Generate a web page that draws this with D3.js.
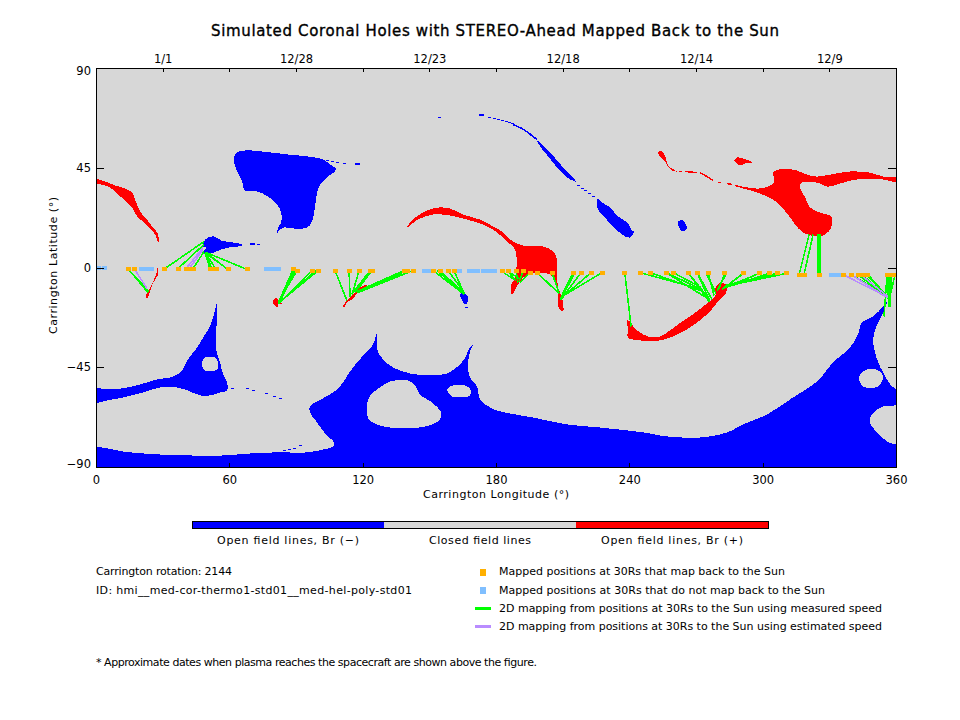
<!DOCTYPE html>
<html><head><meta charset="utf-8">
<script src="https://cdn.jsdelivr.net/npm/d3@7/dist/d3.min.js"></script>
<style>html,body{margin:0;padding:0;background:#fff}svg{display:block}</style>
</head><body><svg id="c" width="960" height="720"></svg>
<script>
const titleText = "Simulated Coronal Holes with STEREO-Ahead Mapped Back to the Sun";
const xTitle = "Carrington Longitude (°)";
const yTitle = "Carrington Latitude (°)";
const lonTicks = [0,60,120,180,240,300,360];
const latTicks = [-90,-45,0,45,90];
const topTicks = [30,60,90,120,150,180,210,240,270,300,330];
const dateLabels = {30:"1/1",90:"12/28",150:"12/23",210:"12/18",270:"12/14",330:"12/9"};
const barLabels = ["Open field lines, Br (−)","Closed field lines","Open field lines, Br (+)"];
const barColors = ["#0000ff","#d7d7d7","#ff0000"];
const infoLines = ["Carrington rotation: 2144","ID: hmi__med-cor-thermo1-std01__med-hel-poly-std01"];
const legendLines = ["Mapped positions at 30Rs that map back to the Sun","Mapped positions at 30Rs that do not map back to the Sun","2D mapping from positions at 30Rs to the Sun using measured speed","2D mapping from positions at 30Rs to the Sun using estimated speed"];
const footnote = "* Approximate dates when plasma reaches the spacecraft are shown above the figure.";

// Open-field regions, [lon, lat]
const blueNorth = [[62.1,49.6],[63.5,51.9],[67.1,52.8],[75.2,52.3],[86,51],[95,50.1],[102.2,48.7],[105.3,46.5],[108,44.2],[104.4,41],[100.8,37.4],[99.5,33.8],[98.6,27.5],[97.2,20.7],[95,18],[88.7,17.6],[84.2,18],[81.9,16.2],[81.5,14.9],[81.9,18],[83.3,20.3],[83.3,24.8],[81.5,28.4],[77.4,32],[72.5,34.3],[67.1,34.7],[65.7,38.8],[63.5,43.3],[62.1,47.4]];
const blueComet = [[48.2,11.3],[50.4,13.5],[53.1,14],[56.3,12.2],[61.7,11.3],[65.7,10.4],[65.7,9.9],[59.9,9],[56.3,8.1],[53.1,6.8],[50.4,5.9],[48.6,6.8],[48.2,4.5],[48.2,6.8],[49.5,9],[48.2,9.5]];
const blueSliver = [[198.5,57.3],[202,54.1],[205.2,51],[207.9,47.8],[211.9,43.3],[216,38.8],[212.8,40.1],[209.6,42.8],[206.4,46.4],[202.8,51],[200.2,54.1]];
const blueStreak = [[225.5,31.1],[227.7,29.3],[231.3,27.1],[234.9,23],[239,20.3],[241.2,16.7],[242.1,16.2],[240.3,13.5],[236.7,14.9],[232.7,18.5],[229,22.5],[225.9,26.2]];
const blueIsle = [[261.9,20.7],[264.2,21.2],[265.5,18.9],[266,18],[264.2,16.2],[262.4,18]];
const blueEquator = [[163.8,-12.2],[165.2,-11.3],[167.4,-13.1],[167.4,-15.3],[166,-16.7],[164.7,-14.4]];
const blueArm = [[0,-54.1],[5,-55],[12.2,-54.5],[19.8,-52.8],[27.5,-50.5],[34.7,-49.2],[38.7,-46.5],[41.4,-41.5],[45.5,-36.1],[48.2,-31.6],[51.3,-26.6],[53.1,-21.2],[54.5,-15.8],[54.5,-23.4],[54,-29.3],[54,-37],[55.8,-42.8],[57.2,-48.2],[59,-51.9],[59,-55.5],[55.8,-56.4],[51.3,-57.7],[46.8,-57.7],[42.3,-55.9],[36.5,-54.1],[28.8,-54.1],[21.2,-56.4],[12.2,-58.6],[3.2,-60.4],[0,-61.3]];
const blueSouth = [[0,-80.7],[5,-81.6],[12.2,-83],[27.5,-84.3],[42.3,-84.8],[57.2,-84.8],[69.3,-83.9],[81.5,-83.4],[95,-83.4],[102.2,-82.1],[106.7,-80.7],[107.1,-78.9],[104.4,-76.2],[101.7,-73.1],[99.5,-69.9],[96.3,-65.4],[96.3,-62.7],[99.5,-60.4],[105.3,-57.3],[109.8,-53.7],[113.4,-48.3],[117.5,-42.8],[122,-37.9],[124.7,-34.7],[126.5,-29.3],[126.5,-37],[129.2,-41.5],[133.7,-45.1],[141.3,-47.8],[150.3,-48.7],[158,-47.8],[163.8,-43.7],[166.5,-40.1],[167.9,-36.5],[169.7,-34.7],[168.3,-37.9],[167.4,-43.7],[168.3,-49.6],[171.5,-53.7],[172.8,-59.5],[177.3,-63.1],[181.8,-64.9],[196.7,-67.7],[212,-70.8],[226.8,-72.2],[246.2,-74.4],[257,-76.2],[271.8,-76.7],[284,-74.4],[291.2,-70.8],[302,-66.3],[313.7,-58.6],[324.5,-51.4],[331.7,-42.8],[339.3,-36.1],[342.9,-30.2],[344.7,-24.8],[349.7,-22.1],[354.2,-17.6],[356,-15.3],[354.2,-20.3],[351.5,-25.7],[349.7,-32.5],[351.5,-41.5],[354.2,-47.4],[358.2,-53.7],[360,-55],[360,-61.8],[354.2,-62.7],[349.2,-66.3],[348.3,-69.9],[351.5,-74.4],[356,-78.5],[360,-79.8]];
const southPole = [[360,-90],[0,-90]];
const closedIslands = [
  [[47.7,-42.8],[49,-40.6],[53.6,-40.6],[54.9,-42.8],[54.5,-46],[49,-46.5]],
  [[121.9,-66.3],[122.9,-58.6],[127.8,-54.1],[132.3,-51.4],[140.4,-51],[143.6,-53.2],[145.8,-57.3],[151.2,-60.9],[155.3,-65.4],[154.8,-68.6],[150.3,-71.2],[139.9,-72.6],[129.2,-71.7],[123.3,-69]],
  [[158,-55],[160.7,-53.2],[166,-53.2],[168.8,-55.5],[168.3,-57.7],[163.8,-58.6],[160.2,-58.2]],
  [[343.4,-49.6],[345.2,-46.9],[349.2,-45.6],[352.8,-46.9],[354.2,-49.6],[351.9,-53.7],[345.2,-53.7]]
];
const blueStrands = [[[187.7,64.5],[191.7,62.7],[194.4,60.9],[198.5,57.7]]];
const blueSpecks = [[104,48.3],[106.2,47.8],[108.5,47.4],[111.6,46.9],[154.4,67.7],[176.9,67.7],[179.1,67.2],[180.9,66.7],[182.7,66.3],[184.5,65.8],[185.9,65.4],[187.2,64.9],[195.8,59.5],[216.9,37],[218.7,35.6],[220.1,34.7],[221.9,33.4],[223.7,32],[72.9,10.4],[166.5,-18],[61.2,-54.6],[68,-54.6],[70.7,-55.5],[76.5,-56.8],[80.1,-58.2],[82.8,-59.1],[84.6,-82.5],[86.9,-82.1],[89.1,-81.6],[91.8,-80.3]];
const blueDots = [[117.5,46.5],[173.3,68.6],[70.2,10.4]];

const redWest = [[0,40.1],[4.1,38.8],[8.6,37],[13.1,35.6],[16.2,33.8],[17.6,30.7],[19.8,25.3],[22.9,21.6],[25.2,18.5],[27.5,15.8],[28.4,11.7],[27.9,11.7],[26.6,14.9],[24.3,17.6],[21.2,20.7],[18.5,23],[16.2,27.1],[13.1,30.2],[9.9,32.9],[6.3,36.1],[0,37.9]];
const redNorth = [[305.1,43.3],[309.2,44.6],[315.5,43.7],[320,41.9],[324.5,41],[330.3,41.9],[339.3,43.3],[348.3,42.8],[354.2,41],[360,40.6],[360,38.8],[354.2,39.7],[347,40.1],[339.3,39.2],[333.5,37.4],[329,36.5],[324.5,38.3],[317.7,38.3],[316.8,36.1],[319.1,31.6],[321.3,27.1],[325.8,24.8],[330.8,23],[330.8,18],[328.1,14.9],[324.5,14],[318.2,15.8],[314.6,19.4],[311.4,23.9],[306.5,29.3],[302,32],[297.5,33.8],[293.4,35.2],[288.9,36.5],[293.4,36.1],[297.9,35.6],[302.4,36.5],[305.1,38.3],[304.7,42.8]];
const redTadpole = [[252.9,51.9],[254.2,52.8],[255.2,51.9],[256.5,49.2],[257.4,46],[259.2,44.6],[261.5,43.3],[259.2,43.7],[257.4,45.5],[256.1,47.8],[253.8,50.1]];
const redPatch = [[287.1,48.3],[288.5,49.6],[291.2,49.2],[295.2,47.4],[292.1,46.9],[289.8,46],[288,47.4]];
const redArch = [[140,18],[141.3,20.3],[144.9,23.5],[150.3,26.2],[154.8,27.1],[159.3,26.6],[165.2,23.9],[172.8,21.6],[178.7,18.5],[183.2,15.8],[187.7,11.7],[192.2,9.9],[201.2,9.5],[205.7,7.2],[207.5,3.6],[207.5,-3.2],[207.9,-9],[209.7,-13.5],[210.2,-19.8],[207.9,-17.6],[207.9,-9.9],[204.3,-3.2],[198.5,-2.3],[194,-3.2],[190.8,-6.3],[187.2,-12.2],[186.8,-7.7],[188.6,-4.5],[188.6,8.1],[185,11.7],[180.5,15.8],[174.2,19.4],[167,21.6],[159.3,23.5],[151.7,23.9],[145.8,22.1],[142.2,19.8]];
const redCrescent = [[239,-23.9],[240.3,-24.4],[241.7,-26.6],[244.8,-29.3],[248.4,-31.1],[253.8,-31.1],[258.3,-28.4],[263.7,-24.4],[270.5,-19.8],[275.4,-15.8],[278.6,-13.1],[279,-8.6],[281.7,-6.8],[284,-8.6],[283.1,-12.2],[279.5,-15.8],[276.3,-19.8],[270.5,-24.8],[264.2,-28.9],[258.3,-31.6],[253.8,-32.9],[244.8,-32.9],[239.4,-31.6],[239.4,-28]];
const redHook = [[27.9,0.5],[27.9,-3.2],[26.1,-6.3],[24.8,-9],[23.9,-12.2],[23,-14],[22.5,-12.6],[23.9,-9.9],[25.7,-6.3],[27,-3.2]];
const redBlot = [[79.7,-15.3],[81,-13.5],[82.4,-15.3],[83.7,-16.2],[81.9,-16.7],[81.9,-18],[81,-17.6],[79.7,-16.2]];
const redWisp = [[111.2,-17.6],[113.4,-14.4],[115.7,-12.2],[118.8,-9],[122,-7.7],[121,-9.5],[117.9,-11.3],[115.2,-14.4],[112.9,-15.8],[112,-17.6]];
const redStrands = [[[262.4,43.3],[263.7,43.3]],[[265.1,43.3],[270.5,42.8]],[[271.8,42.8],[275,41],[277.7,39.2]],[[279.9,38.3],[281.3,38.3]],[[284,37.9],[286.2,37.4]],[[287.6,37],[294.3,35.2]]];

const blueClosed = [blueNorth,blueComet,blueSliver,blueStreak,blueIsle,blueEquator];
const redClosed = [redNorth,redTadpole,redPatch,redArch,redCrescent,redHook,redBlot,redWisp];

// Positions at 30Rs
const mappedPts = [[14.4,-.5],[17.1,-.5],[31,-.5],[36.9,-.5],[40.5,-.5],[41.9,-.5],[43.7,-.5],[51.3,-.5],[52.2,-.5],[54,-.9],[59.4,-.9],[68,-.9],[88.7,-.9],[90.5,-1.4],[97.2,-1.4],[99.9,-1.4],[107.6,-1.4],[113.9,-1.4],[118.4,-1.4],[123.3,-1.4],[124.2,-1.4],[138.6,-1.4],[140,-1.4],[142.7,-1.4],[151.7,-1.4],[154.8,-1.4],[158.4,-1.4],[161.1,-1.4],[182.7,-1.8],[185.4,-1.8],[189,-1.8],[192.2,-1.8],[195.3,-2.3],[198.5,-2.3],[205.2,-2.3],[214.7,-2.3],[218.3,-2.3],[222.8,-2.3],[227.7,-2.3],[238,-2.7],[244.8,-2.3],[249.3,-2.3],[256.5,-2.3],[259.7,-2.3],[266.4,-2.3],[270.5,-2.3],[275.4,-2.3],[283,-2.3],[291.2,-2.7],[298.4,-2.7],[302.9,-2.7],[306.5,-2.7],[310.5,-2.7],[316.4,-3.2],[318.6,-3.2],[325.4,-3.2],[336.2,-3.2],[339.8,-3.2],[342.9,-3.2],[344.7,-3.2],[347,-3.2],[356,-3.2],[357.8,-3.2],[359.6,-3.2]];
const unmappedPts = [[.9,-.2],[4,-.4],[20.3,-.5],[22,-.5],[23.4,-.5],[24.8,-.5],[76.5,-.9],[77.9,-.9],[79.2,-.9],[80.6,-.9],[81.9,-.9],[147.6,-1.4],[149,-1.4],[149.9,-1.4],[163.4,-1.8],[167.9,-1.4],[169.7,-1.4],[171.5,-1.4],[174.2,-1.8],[176,-1.8],[177.8,-1.8],[179.1,-1.8],[330.8,-3.2],[332.1,-3.2],[333.5,-3.2],[334.8,-3.2]];

// [lon at 30Rs, lat at 30Rs, lon at Sun, lat at Sun]
const measuredLinks = [[14,-.5,23.9,-10.8],[14.4,-.5,23.4,-11.3],[31,-.5,48.6,11.7],[36.9,-.5,48.6,10.4],[43.7,-.5,48.6,7.2],[51.3,-.5,49,6.8],[52.2,-.5,49,6.8],[54,-.9,49.5,6.3],[59.4,-.9,49,6.8],[59.4,-.9,50,6.3],[68,-.9,49.5,6.8],
[88.7,-.9,81.9,-16.2],[89.6,-.9,82.4,-16.2],[90.5,-1.4,81.9,-15.8],[97.2,-1.4,82.4,-16.2],[99.9,-1.4,82.4,-15.8],[99,-1.4,81.9,-16.2],
[107.6,-1.4,112.9,-14.9],[113.9,-1.4,114.3,-13.1],[118.4,-1.4,115.2,-12.2],[123.3,-1.4,115.7,-11.3],[124.2,-1.4,116.6,-11.3],[138.6,-1.4,117.5,-11.3],[138.6,-1.4,118.4,-10.4],[142.7,-1.4,117.9,-11.3],[142.7,-1.4,118.8,-10.4],[140,-1.4,117.9,-10.8],
[151.7,-1.4,165.2,-11.7],[153.5,-1.4,165.6,-12.2],[154.8,-1.4,165.2,-11.3],[158.4,-1.4,166,-11.7],[161.1,-1.4,165.6,-11.7],
[182.7,-1.8,188.1,-5.4],[185.4,-1.8,189,-5.9],[185.4,-1.8,191.3,-5.4],[189,-1.8,189.9,-6.8],[192.2,-1.8,190.4,-6.3],[195.3,-2.3,190.8,-6.8],
[198.5,-2.3,207.9,-11.3],[205.2,-2.3,208.4,-11.7],[214.7,-2.3,208.8,-14.4],[215.6,-2.3,209.3,-14],[218.3,-2.3,209.3,-14.4],[222.8,-2.3,209.7,-13.5],[227.7,-2.3,209.7,-13.1],[238,-2.7,240.8,-26.6],
[244.8,-2.3,272.7,-9.9],[249.3,-2.3,273.2,-10.8],[256.5,-2.3,271.8,-9.5],[256.5,-2.3,275.9,-14.4],[259.7,-2.3,272.3,-9],[266.4,-2.3,275.9,-15.3],[266.4,-2.3,275.4,-13.5],[270.5,-2.3,276.3,-15.3],[270.5,-2.3,277.2,-14.4],[274.5,-2.3,279,-11.7],[275.4,-2.3,278.1,-12.6],[283,-2.3,280.4,-9.5],[283.9,-2.3,279.5,-10.4],[291.2,-2.7,283.1,-9],[291.2,-2.7,281.7,-9.9],
[298.4,-2.7,284,-8.6],[298.4,-2.7,283.5,-9],[302.9,-2.7,283.5,-9],[306.5,-2.7,283.1,-8.1],[306.5,-2.7,282.6,-9],[310.5,-2.7,282.6,-8.6],
[316.4,-3.2,320.9,14.9],[318.6,-3.2,322.7,14.9],[324.9,-3.2,324.9,14.9],[325.4,-3.2,325.4,14.9],[325.9,-3.2,325.9,14.9],
[339.8,-3.2,355.9,-12.6],[342.9,-3.2,356.4,-13.5],[344.7,-3.2,355.9,-13.1],[346.5,-3.2,356.4,-13.1],[347.4,-3.2,356.9,-14],[356,-3.2,354.6,-22.1],[356,-3.2,356.9,-17.6],[356.4,-3.2,356.4,-14.4],[356.9,-3.2,356.9,-17.6],[357.3,-3.2,357.3,-17.6],[357.8,-3.2,357.3,-17.6],[359.6,-3.2,356.9,-14.4]];
const estimatedLinks = [[17.1,-.5,23,-9.5],[40.5,-.5,48.2,9],[41.9,-.5,48.2,8.1],[336.2,-3.2,356.4,-13.5],[339.8,-3.2,355.9,-13.5],[344,-3.2,356.4,-13.1]];

const svg = d3.select("#c");
const x = d3.scaleLinear().domain([0,360]).range([96,896]);
const y = d3.scaleLinear().domain([-90,90]).range([467,68]);
const path = d3.line().x(d=>x(d[0])).y(d=>y(d[1]));
const closedCurve = d3.line().x(d=>x(d[0])).y(d=>y(d[1])).curve(d3.curveCatmullRomClosed.alpha(.5));
const openCurve = d3.line().x(d=>x(d[0])).y(d=>y(d[1])).curve(d3.curveCatmullRom.alpha(.5));
const FONT = "DejaVu Sans, sans-serif";

function label(s,px,py,len,opt={}){
  const t = svg.append("text").text(s).attr("x",px).attr("y",py)
    .attr("font-family",FONT).attr("font-size",opt.size||11).attr("fill","#000")
    .attr("text-anchor",opt.anchor||"start")
    .attr("textLength",len).attr("lengthAdjust","spacing");
  if(opt.stroke) t.attr("stroke","#000").attr("stroke-width",opt.stroke);
  if(opt.transform) t.attr("transform",opt.transform);
  return t;
}

svg.append("clipPath").attr("id","plotClip").append("rect").attr("x",x(0)).attr("y",y(90)).attr("width",x(360)-x(0)).attr("height",y(-90)-y(90));

const plot = svg.append("g").attr("shape-rendering","crispEdges").attr("clip-path","url(#plotClip)");
plot.append("rect").attr("x",x(0)).attr("y",y(90)).attr("width",x(360)-x(0)).attr("height",y(-90)-y(90)).attr("fill",barColors[1]);

const fillShape = (d,col)=>plot.append("path").attr("d",d).attr("fill",col);
blueClosed.forEach(p=>fillShape(closedCurve(p),barColors[0]));
fillShape(openCurve(blueArm)+"Z",barColors[0]);
fillShape(openCurve(blueSouth)+path(southPole).replace("M","L")+"Z",barColors[0]);
closedIslands.forEach(p=>fillShape(closedCurve(p),barColors[1]));
redClosed.forEach(p=>fillShape(closedCurve(p),barColors[2]));
fillShape(openCurve(redWest)+"Z",barColors[2]);

plot.selectAll("path.rs").data(redStrands).join("path").attr("class","rs").attr("d",path).attr("fill","none").attr("stroke",barColors[2]).attr("stroke-width",1.5);
plot.selectAll("path.bs").data(blueStrands).join("path").attr("class","bs").attr("d",path).attr("fill","none").attr("stroke",barColors[0]).attr("stroke-width",1.5);
plot.selectAll("rect.sp").data(blueSpecks).join("rect").attr("class","sp").attr("x",d=>x(d[0])-1.5).attr("y",d=>y(d[1])-.5).attr("width",3).attr("height",1).attr("fill",barColors[0]);
plot.selectAll("rect.dt").data(blueDots).join("rect").attr("class","dt").attr("x",d=>x(d[0])-2.5).attr("y",d=>y(d[1])-1).attr("width",5).attr("height",2).attr("fill",barColors[0]);

const links = (cls,data,col)=>plot.selectAll("line."+cls).data(data).join("line").attr("class",cls)
  .attr("x1",d=>x(d[0])).attr("y1",d=>y(d[1])).attr("x2",d=>x(d[2])).attr("y2",d=>y(d[3]))
  .attr("stroke",col).attr("stroke-width",1.6);
links("m",measuredLinks,"#00ff00");
links("e",estimatedLinks,"#b98cff");

const pts = (cls,data,col)=>plot.selectAll("rect."+cls).data(data).join("rect").attr("class",cls)
  .attr("x",d=>x(d[0])-2.5).attr("y",d=>y(d[1])-2).attr("width",5).attr("height",4).attr("fill",col);
pts("u",unmappedPts,"#80bfff");
pts("o",mappedPts,"#ffb000");

// axes
const axisFont = g=>g.attr("font-family",FONT).attr("font-size",11.5).attr("shape-rendering","crispEdges");
svg.append("g").attr("transform",`translate(0,${y(-90)})`).call(d3.axisBottom(x).tickValues(lonTicks).tickFormat(d3.format("d")).tickSize(-4).tickSizeOuter(0).tickPadding(9)).call(axisFont);
svg.append("g").attr("transform",`translate(0,${y(90)})`).call(d3.axisTop(x).tickValues(topTicks).tickFormat(d=>dateLabels[d]||"").tickSize(-4).tickSizeOuter(0).tickPadding(5)).call(axisFont);
svg.append("g").attr("transform",`translate(${x(0)},0)`).call(d3.axisLeft(y).tickValues(latTicks).tickFormat(d3.format("d")).tickSize(-8).tickSizeOuter(0).tickPadding(5)).call(axisFont)
  .selectAll("text").attr("y",d=>d===90?3:d===-90?-3:0);
svg.append("g").attr("transform",`translate(${x(360)},0)`).call(d3.axisRight(y).tickValues(latTicks).tickFormat("").tickSize(-8).tickSizeOuter(0)).call(axisFont);

// titles
label(titleText,211,36,568,{size:15,stroke:.35});
label(xTitle,423,498,146);
label(yTitle,0,0,137,{transform:"translate(57,334) rotate(-90)"});

// colour bar
const barX = d3.scaleBand().domain(barColors).range([192,768]);
const bar = svg.append("g").attr("shape-rendering","crispEdges");
bar.selectAll("rect").data(barColors).join("rect").attr("x",d=>barX(d)).attr("y",521.5).attr("width",barX.bandwidth()).attr("height",7).attr("fill",d=>d);
bar.append("rect").attr("x",192.5).attr("y",521.5).attr("width",576).attr("height",7).attr("fill","none").attr("stroke","#000");
label(barLabels[0],217,544,142);
label(barLabels[1],429,544,102);
label(barLabels[2],601,544,142);

// notes
label(infoLines[0],96,575,136);
label(infoLines[1],96,594,316);
label(footnote,96,666,441);

// legend
const leg = svg.append("g").attr("shape-rendering","crispEdges");
leg.append("rect").attr("x",480).attr("y",569).attr("width",6).attr("height",7).attr("fill","#ffb000");
leg.append("rect").attr("x",480).attr("y",587).attr("width",6).attr("height",7).attr("fill","#80bfff");
leg.append("rect").attr("x",475).attr("y",607).attr("width",16).attr("height",3).attr("fill","#00ff00");
leg.append("rect").attr("x",475).attr("y",625).attr("width",16).attr("height",3).attr("fill","#b98cff");
label(legendLines[0],499,575,286);
label(legendLines[1],499,594,326);
label(legendLines[2],499,612,383);
label(legendLines[3],499,630,383);
</script></body></html>
